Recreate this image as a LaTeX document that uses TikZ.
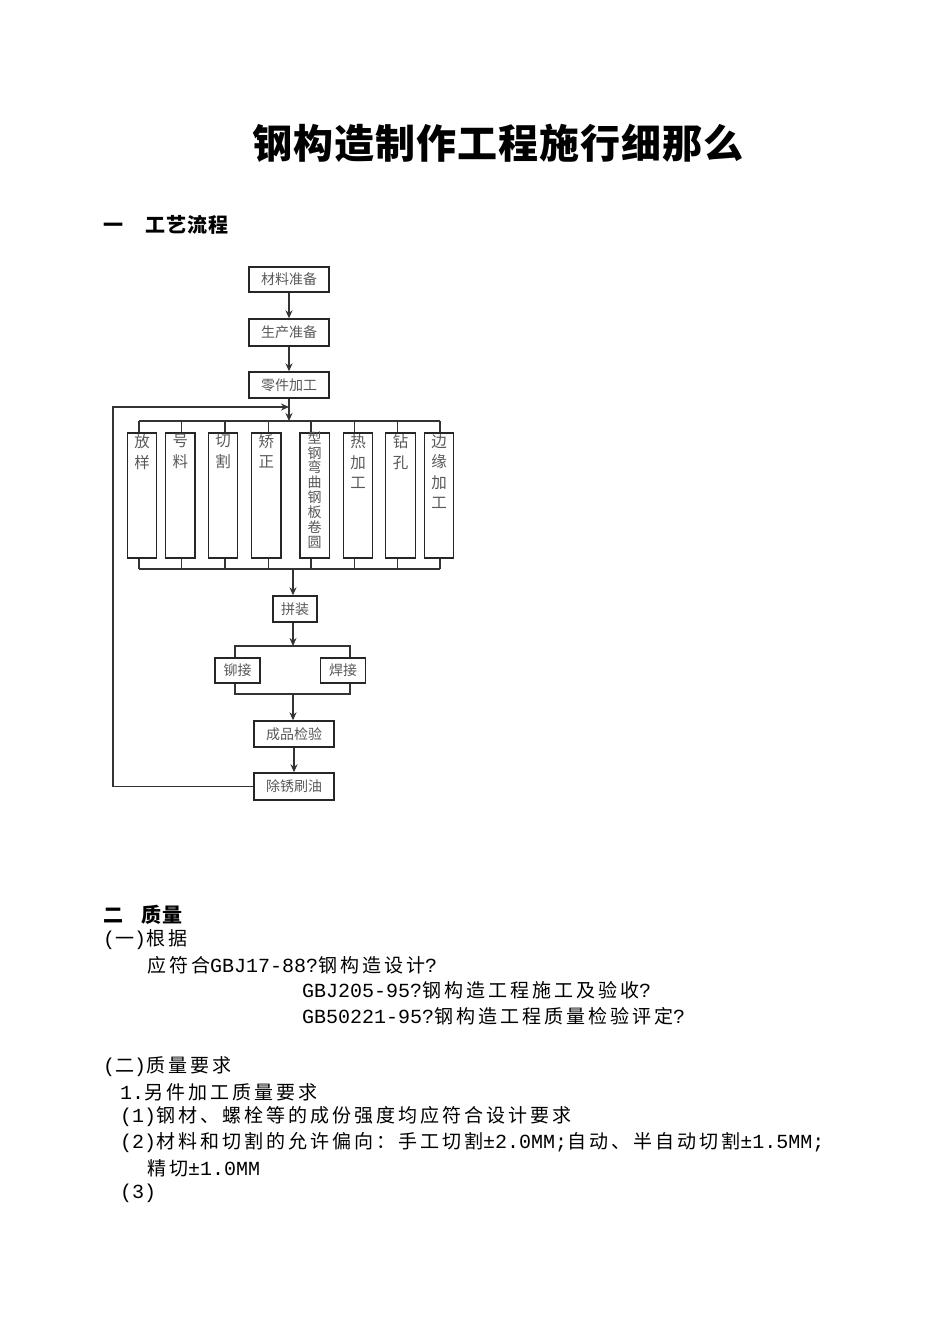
\documentclass[tikz,border=0pt]{standalone}
\usepackage{fontspec}
\usetikzlibrary{arrows.meta}
\newfontfamily\cjk{Noto Sans CJK SC}
\newfontfamily\bodyf{Noto Sans CJK SC}[LetterSpace=15.8]
\newfontfamily\headf{Noto Sans CJK SC}[LetterSpace=5]
\newfontfamily\titlef{Noto Sans CJK SC}[LetterSpace=2.5]
\newfontfamily\monof{Liberation Mono}
\newcommand\lt[1]{{\monof\fontsize{20}{22}\selectfont #1}}
\tikzset{
  box/.style={draw=black!85, line width=1.4pt, inner sep=0pt, minimum width=80pt, minimum height=26pt,
    font=\cjk\fontsize{14}{14}\selectfont, text=black!65},
  vbox/.style={draw=black!85, line width=1.4pt, minimum width=29.5pt, minimum height=125pt, inner sep=0pt},
  vtxt/.style={font=\cjk\fontsize{15.5}{20.5}\selectfont, text=black!65, align=center, anchor=north, inner sep=0pt},
  conn/.style={line width=1.2pt, draw=black!80},
  arr/.style={conn, -{Stealth[length=8pt,width=7pt]}},
  body/.style={anchor=west, inner sep=0pt, font=\bodyf\fontsize{19}{22}\selectfont},
  head/.style={anchor=west, inner sep=0pt, font=\headf\bfseries\fontsize{20}{22}\selectfont},
}
\begin{document}
\begin{tikzpicture}[x=1pt,y=-1pt]
\useasboundingbox[fill=white] (0,0) rectangle (950,1344);

% title
\node[anchor=west, inner sep=0pt, font=\titlef\bfseries\fontsize{40}{44}\selectfont] (title) at (252,143) {钢构造制作工程施行细那么};
\node[head] (h1) at (103,225) {一\hspace{22pt}工艺流程};

% main chain
\node[box, minimum height=25pt] (m1) at (289,279.5) {材料准备};
\node[box, minimum height=27pt] (m2) at (289,332.5) {生产准备};
\node[box] (m3) at (289,385) {零件加工};
\draw[arr] (m1.south) -- (m2.north);
\draw[arr] (m2.south) -- (m3.north);

% vertical boxes
\foreach \i/\bx/\sx in {1/142/139, 2/180.3/181.7, 3/223/225, 4/266.3/268.3, 5/314.7/311, 6/358/354.3, 7/400.5/397.7, 8/439/440}{
  \node[vbox] (b\i) at (\bx,495.5) {};
  \coordinate (t\i) at (\sx,421);
  \coordinate (u\i) at (\sx,569);
}
\node[vtxt] (l1) at ([yshift=-2pt]b1.north) {放\\样};
\node[vtxt] (l2) at ([yshift=-2pt]b2.north) {号\\料};
\node[vtxt] (l3) at ([yshift=-2pt]b3.north) {切\\割};
\node[vtxt] (l4) at ([yshift=-2pt]b4.north) {矫\\正};
\node[vtxt, font=\cjk\fontsize{14}{14.9}\selectfont] (l5) at ([yshift=1pt]b5.north) {型\\钢\\弯\\曲\\钢\\板\\卷\\圆};
\node[vtxt] (l6) at ([yshift=-2pt]b6.north) {热\\加\\工};
\node[vtxt] (l7) at ([yshift=-2pt]b7.north) {钻\\孔};
\node[vtxt] (l8) at ([yshift=-2pt]b8.north) {边\\缘\\加\\工};

\draw[arr] (m3.south) -- (m3.south |- t1);
\draw[conn] (t1) -- (t8);
\draw[conn] (u1) -- (u8);
\foreach \i in {1,...,8}{
  \draw[conn] (t\i) -- (t\i |- b\i.north);
  \draw[conn] (b\i.south -| u\i) -- (u\i);
}

% assembly
\node[box, minimum width=44pt] (pz) at (295,609) {拼装};
\node[box, minimum width=45pt, minimum height=25pt] (rj) at (237.5,670.5) {铆接};
\node[box, minimum width=45pt, minimum height=25pt] (hj) at (343.2,670.5) {焊接};
\node[box] (cp) at (294,734) {成品检验};
\node[box, minimum height=27pt] (cx) at (294,786.5) {除锈刷油};

\coordinate (d1) at (293,569);
\coordinate (d2) at (293,646);
\coordinate (d3) at (293,694);
\coordinate (v1) at (235,646);
\coordinate (v2) at (350,646);
\coordinate (w1) at (235,694);
\coordinate (w2) at (350,694);
\coordinate (fb) at (113,407);

\draw[arr] (d1) -- (d1 |- pz.north);
\draw[arr] (d1 |- pz.south) -- (d2);
\draw[conn] (v1 |- rj.north) -- (v1) -- (v2) -- (v2 |- hj.north);
\draw[conn] (rj.south -| w1) -- (w1) -- (w2) -- (hj.south -| w2);
\draw[arr] (d3) -- (d3 |- cp.north);
\draw[arr] (cp.south) -- (cx.north);
\draw[arr] (cx.west) -| (fb) -- (fb -| m3.south);

% section two
\node[head] (h2) at (103,915) {二\hspace{18pt}质量};
\node[body] (q1) at (103,940) {\lt{(}一\lt{)}根据};
\node[body] (q2) at (147,965) {应符合\lt{GBJ17-88?}钢构造设计\lt{?}};
\node[body] (q3) at (302,990) {\lt{GBJ205-95?}钢构造工程施工及验收\lt{?}};
\node[body] (q4) at (302,1016) {\lt{GB50221-95?}钢构造工程质量检验评定\lt{?}};
\node[body] (q5) at (103,1067) {\lt{(}二\lt{)}质量要求};
\node[body] (q6) at (120,1092) {\lt{1.}另件加工质量要求};
\node[body] (q7) at (120,1117) {\lt{(1)}钢材、螺栓等的成份强度均应符合设计要求};
\node[body] (q8) at (120,1143) {\lt{(2)}材料和切割的允许偏向：手工切割\lt{±2.0MM;}自动、半自动切割\lt{±1.5MM;}};
\node[body] (q9) at (147,1168) {精切\lt{±1.0MM}};
\node[body] (q10) at (120,1193) {\lt{(3)}};
\end{tikzpicture}
\end{document}
